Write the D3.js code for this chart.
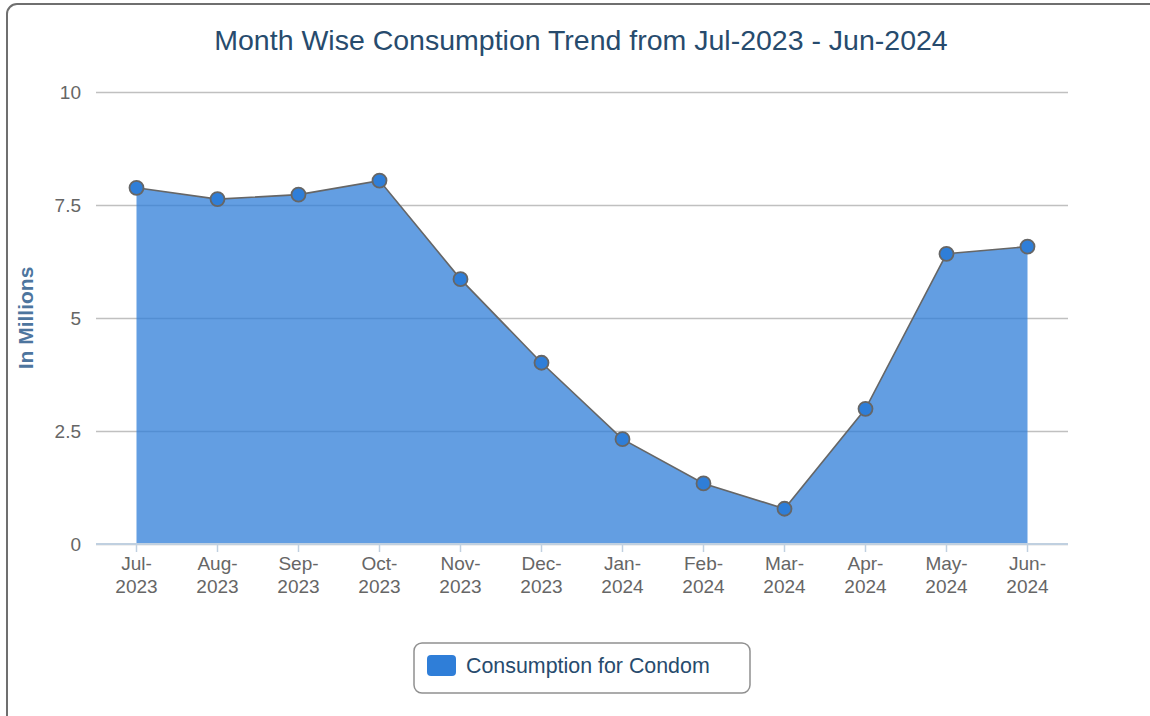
<!DOCTYPE html>
<html>
<head>
<meta charset="utf-8">
<script src="https://cdnjs.cloudflare.com/ajax/libs/d3/7.8.5/d3.min.js"></script>
<style>
  body { margin: 0; background: #fff; }
  svg { display: block; font-family: "Liberation Sans", Arial, sans-serif; }
</style>
</head>
<body>
<svg id="chart" width="1150" height="716"></svg>
<script>
// data
let months = ["Jul-2023", "Aug-2023", "Sep-2023", "Oct-2023", "Nov-2023", "Dec-2023",
              "Jan-2024", "Feb-2024", "Mar-2024", "Apr-2024", "May-2024", "Jun-2024"];
let consumption = [7.88, 7.63, 7.73, 8.04, 5.86, 4.01, 2.32, 1.34, 0.78, 2.99, 6.42, 6.58];
let yTicks = [0, 2.5, 5, 7.5, 10];
let seriesName = "Consumption for Condom";

let seriesColor = "#2f7ed8";
let lineColor = "#666666";
let gridColor = "#c0c0c0";
let axisColor = "#c0d0e0";
let labelColor = "#666666";
let titleColor = "#274b6d";

let plotLeft = 96, plotRight = 1068, plotTop = 92, plotBottom = 544;

let svg = d3.select("#chart");

// outer frame
svg.append("rect")
  .attr("x", 7).attr("y", 4)
  .attr("width", 1152).attr("height", 725)
  .attr("rx", 10).attr("ry", 10)
  .attr("fill", "#fff")
  .attr("stroke", "#6f6f6f")
  .attr("stroke-width", 2);

let x = d3.scaleBand().domain(months).range([plotLeft, plotRight]);
let y = d3.scaleLinear().domain([0, 10]).range([plotBottom, plotTop]);
let cx = d => x(d) + x.bandwidth() / 2;

// title
svg.append("text")
  .attr("x", 581).attr("y", 50)
  .attr("text-anchor", "middle")
  .attr("fill", titleColor)
  .style("font-size", "28.5px")
  .text("Month Wise Consumption Trend from Jul-2023 - Jun-2024");

// grid lines
svg.append("g")
  .attr("transform", "translate(" + plotLeft + ",0)")
  .call(d3.axisLeft(y).tickValues(yTicks).tickSize(-(plotRight - plotLeft)).tickFormat(""))
  .call(g => g.select(".domain").remove())
  .call(g => g.selectAll("line").attr("stroke", gridColor).attr("stroke-width", 1.3));

// y labels
svg.append("g")
  .attr("transform", "translate(" + plotLeft + ",0)")
  .call(d3.axisLeft(y).tickValues(yTicks).tickSize(0).tickPadding(15).tickFormat(d3.format("")))
  .call(g => g.select(".domain").remove())
  .call(g => g.selectAll("text")
    .attr("fill", labelColor)
    .attr("dy", "0.34em")
    .style("font-size", "19px")
    .style("font-family", "'Liberation Sans', Arial, sans-serif"));

// y title
svg.append("text")
  .attr("transform", "translate(33," + ((plotTop + plotBottom) / 2) + ") rotate(-90)")
  .attr("text-anchor", "middle")
  .attr("fill", "#4d759e")
  .style("font-size", "21px")
  .style("font-weight", "bold")
  .text("In Millions");

// area + line
let area = d3.area()
  .x((d, i) => cx(months[i]))
  .y0(y(0))
  .y1(d => y(d));
let line = d3.line()
  .x((d, i) => cx(months[i]))
  .y(d => y(d));

svg.append("path")
  .datum(consumption)
  .attr("d", area)
  .attr("fill", seriesColor)
  .attr("fill-opacity", 0.75);

// x axis
let xAxis = svg.append("g")
  .attr("transform", "translate(0," + plotBottom + ")")
  .call(d3.axisBottom(x).tickSize(8).tickSizeOuter(0).tickPadding(4).tickFormat(""));
xAxis.select(".domain").attr("stroke", axisColor).attr("stroke-width", 2)
  .attr("d", "M" + plotLeft + ",0H" + plotRight);
xAxis.selectAll(".tick line").attr("stroke", axisColor).attr("stroke-width", 1.5);
xAxis.selectAll(".tick").each(function(d) {
  let parts = d.split("-");
  let t = d3.select(this).append("text")
    .attr("text-anchor", "middle")
    .attr("fill", labelColor)
    .style("font-size", "19px");
  t.append("tspan").attr("x", 0).attr("y", 26).text(parts[0] + "-");
  t.append("tspan").attr("x", 0).attr("y", 49).text(parts[1]);
});

svg.append("path")
  .datum(consumption)
  .attr("d", line)
  .attr("fill", "none")
  .attr("stroke", lineColor)
  .attr("stroke-width", 1.6);

svg.selectAll("circle.pt")
  .data(consumption)
  .enter().append("circle")
  .attr("class", "pt")
  .attr("cx", (d, i) => cx(months[i]))
  .attr("cy", d => y(d))
  .attr("r", 7)
  .attr("fill", seriesColor)
  .attr("stroke", lineColor)
  .attr("stroke-width", 1.8);

// legend
let legend = svg.append("g");
legend.append("rect")
  .attr("x", 414).attr("y", 643)
  .attr("width", 336).attr("height", 50)
  .attr("rx", 8).attr("ry", 8)
  .attr("fill", "#fff")
  .attr("stroke", "#909090")
  .attr("stroke-width", 1.5);
legend.append("rect")
  .attr("x", 427).attr("y", 655)
  .attr("width", 29).attr("height", 21)
  .attr("rx", 4).attr("ry", 4)
  .attr("fill", seriesColor);
legend.append("text")
  .attr("x", 466).attr("y", 673)
  .attr("fill", titleColor)
  .style("font-size", "21.4px")
  .text(seriesName);
</script>
</body>
</html>
